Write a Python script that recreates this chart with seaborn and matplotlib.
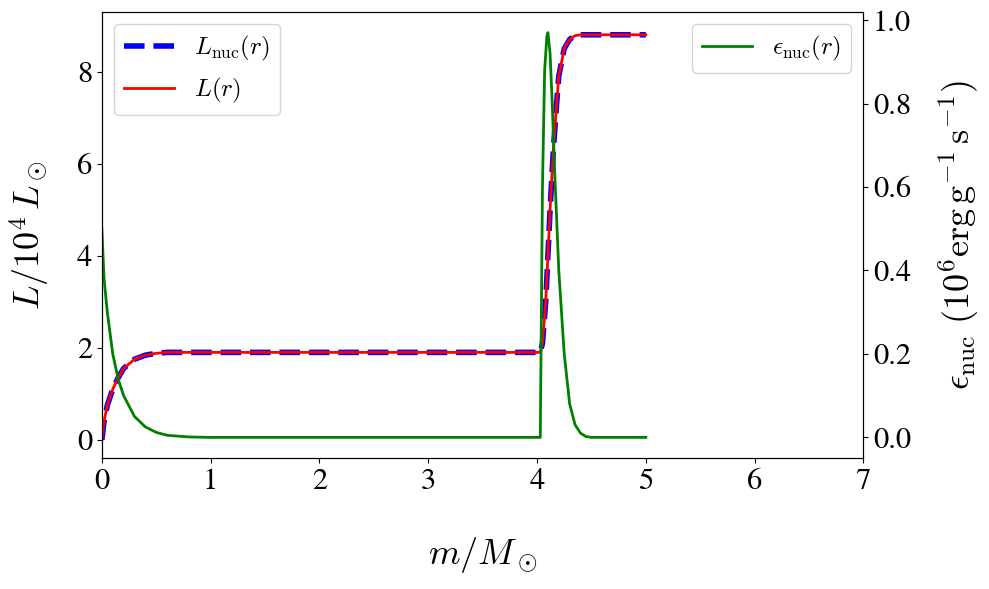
import matplotlib
matplotlib.use("Agg")
import matplotlib.pyplot as plt
import seaborn as sns
import pandas as pd

m_L = [0,0.02,0.05,0.1,0.15,0.2,0.3,0.4,0.5,0.6,0.8,1,2,3,4,4.03,4.05,4.08,4.1,4.12,4.15,4.18,4.2,4.25,4.3,4.35,4.4,4.5,5]
L_vals = [0,0.4,0.75,1.1,1.35,1.55,1.75,1.84,1.88,1.9,1.9,1.9,1.9,1.9,1.9,1.9,2.1,3.0,4.0,5.0,6.3,7.3,7.9,8.5,8.7,8.78,8.8,8.8,8.8]
m_eps = [0,0.02,0.05,0.1,0.15,0.2,0.3,0.4,0.5,0.6,0.8,1,2,3,4.03,4.04,4.05,4.07,4.09,4.1,4.12,4.14,4.16,4.2,4.25,4.3,4.35,4.4,4.45,4.5,5]
eps_vals = [0.5,0.38,0.3,0.2,0.14,0.1,0.05,0.025,0.012,0.005,0.001,0,0,0,0,0.3,0.6,0.88,0.96,0.97,0.92,0.8,0.65,0.4,0.2,0.08,0.03,0.01,0.002,0,0]

plt.rcParams["mathtext.fontset"] = "cm"
plt.rcParams["font.family"] = "STIXGeneral"

dfL = pd.DataFrame({"m": m_L, "L": L_vals})
dfE = pd.DataFrame({"m": m_eps, "e": eps_vals})

fig, ax = plt.subplots(figsize=(9.89, 5.89), dpi=100)
fig.subplots_adjust(left=0.103, right=0.873, top=0.98, bottom=0.222)
sns.lineplot(data=dfL, x="m", y="L", ax=ax, color="blue", lw=4, ls="--", label=r"$L_{\rm nuc}(r)$")
sns.lineplot(data=dfL, x="m", y="L", ax=ax, color="red", lw=2, label=r"$L(r)$")
ax.set_xlim(0, 7)
ax.set_ylim(-0.4, 9.3)
ax.set_xlabel(r"$m/M_\odot$", fontsize=26, labelpad=28)
ax.set_ylabel(r"$L/10^4\,L_\odot$", fontsize=26, labelpad=18)
ax.tick_params(labelsize=22)
ax.legend(loc="upper left", fontsize=18)

ax2 = ax.twinx()
sns.lineplot(data=dfE, x="m", y="e", ax=ax2, color="green", lw=2, label=r"$\epsilon_{\rm nuc}(r)$")
ax2.set_ylim(-0.05, 1.02)
ax2.set_ylabel(r"$\epsilon_{\rm nuc}\ (10^6 {\rm erg\,g^{-1}\,s^{-1}})$", fontsize=26, labelpad=18)
ax2.tick_params(labelsize=22)
ax2.legend(loc="upper right", fontsize=18)

fig.savefig("out.png", dpi=100)
